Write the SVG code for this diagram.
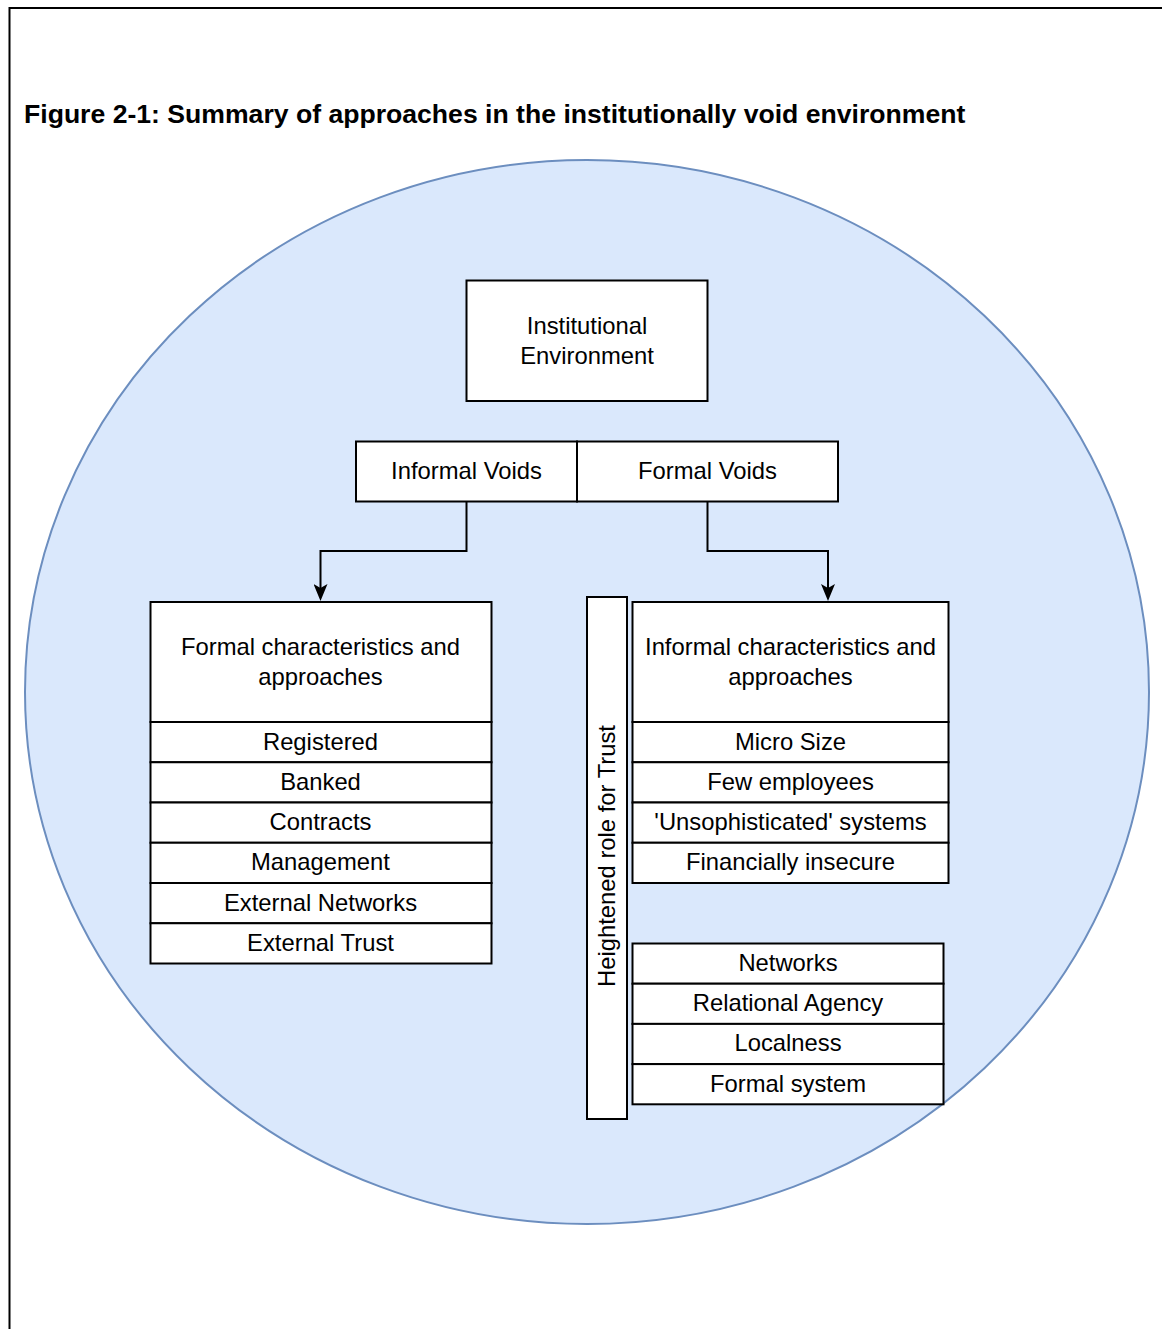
<svg xmlns="http://www.w3.org/2000/svg" width="1162" height="1329" viewBox="0 0 1162 1329">
  <style>
    .frame { fill: none; stroke: #000; stroke-width: 2; }
    .env { fill: #dae8fc; stroke: #6c8ebf; stroke-width: 2; }
    .box { fill: #fff; stroke: #000; stroke-width: 2; }
    .t { font-family: "Liberation Sans", Arial, sans-serif; font-size: 23.8px; fill: #000; text-anchor: middle; }
    .title { font-family: "Liberation Sans", Arial, sans-serif; font-size: 26.6px; font-weight: bold; fill: #000; }
    .edge { fill: none; stroke: #000; stroke-width: 2; }
  </style>
  <defs>
    <marker id="arrow" markerUnits="userSpaceOnUse" viewBox="0 0 17 14" refX="13" refY="7" markerWidth="17" markerHeight="14" orient="auto">
      <path d="M0,0 L17,7 L0,14 L4,7 Z" fill="#000"/>
    </marker>
  </defs>

  <rect width="1162" height="1329" fill="#fff"/>

  <!-- page frame (top and left rules) -->
  <path class="frame" d="M9.5,1329 V8 H1162"/>

  <text class="title" x="24" y="122.5">Figure 2-1: Summary of approaches in the institutionally void environment</text>

  <!-- surrounding environment -->
  <ellipse class="env" cx="587" cy="692" rx="562" ry="532"/>

  <!-- connectors -->
  <g id="connectors">
    <path class="edge" d="M466.5,501.5 V551 H320.5 V597" marker-end="url(#arrow)"/>
    <path class="edge" d="M707.5,501.5 V551 H828 V597" marker-end="url(#arrow)"/>
  </g>

  <g id="institutional-environment">
    <rect class="box" x="466.5" y="280.5" width="241" height="120.5"/>
    <text class="t" x="587" y="334">Institutional</text>
    <text class="t" x="587" y="364">Environment</text>
  </g>

  <g id="informal-voids">
    <rect class="box" x="356" y="441.5" width="221" height="60"/>
    <text class="t" x="466.5" y="478.5">Informal Voids</text>
  </g>

  <g id="formal-voids">
    <rect class="box" x="577" y="441.5" width="261" height="60"/>
    <text class="t" x="707.5" y="478.5">Formal Voids</text>
  </g>

  <g id="formal-characteristics">
    <rect class="box" x="150.5" y="602" width="341" height="120"/>
    <text class="t" x="320.5" y="655">Formal characteristics and</text>
    <text class="t" x="320.5" y="685">approaches</text>
    <rect class="box" x="150.5" y="722" width="341" height="40.25"/>
    <text class="t" x="320.5" y="749.5">Registered</text>
    <rect class="box" x="150.5" y="762.25" width="341" height="40.25"/>
    <text class="t" x="320.5" y="789.8">Banked</text>
    <rect class="box" x="150.5" y="802.5" width="341" height="40.25"/>
    <text class="t" x="320.5" y="830">Contracts</text>
    <rect class="box" x="150.5" y="842.75" width="341" height="40.25"/>
    <text class="t" x="320.5" y="870.3">Management</text>
    <rect class="box" x="150.5" y="883" width="341" height="40.25"/>
    <text class="t" x="320.5" y="910.5">External Networks</text>
    <rect class="box" x="150.5" y="923.25" width="341" height="40.25"/>
    <text class="t" x="320.5" y="950.8">External Trust</text>
  </g>

  <g id="heightened-trust">
    <rect class="box" x="587" y="597" width="40" height="522"/>
    <text class="t" transform="translate(615,856) rotate(-90)">Heightened role for Trust</text>
  </g>

  <g id="informal-characteristics">
    <rect class="box" x="632.5" y="602" width="316" height="120"/>
    <text class="t" x="790.5" y="655">Informal characteristics and</text>
    <text class="t" x="790.5" y="685">approaches</text>
    <rect class="box" x="632.5" y="722" width="316" height="40.25"/>
    <text class="t" x="790.5" y="749.5">Micro Size</text>
    <rect class="box" x="632.5" y="762.25" width="316" height="40.25"/>
    <text class="t" x="790.5" y="789.8">Few employees</text>
    <rect class="box" x="632.5" y="802.5" width="316" height="40.25"/>
    <text class="t" x="790.5" y="830">'Unsophisticated' systems</text>
    <rect class="box" x="632.5" y="842.75" width="316" height="40.25"/>
    <text class="t" x="790.5" y="870.3">Financially insecure</text>
  </g>

  <g id="trust-mechanisms">
    <rect class="box" x="632.5" y="943.5" width="311" height="40.2"/>
    <text class="t" x="788" y="971">Networks</text>
    <rect class="box" x="632.5" y="983.7" width="311" height="40.2"/>
    <text class="t" x="788" y="1011.2">Relational Agency</text>
    <rect class="box" x="632.5" y="1023.9" width="311" height="40.2"/>
    <text class="t" x="788" y="1051.4">Localness</text>
    <rect class="box" x="632.5" y="1064.1" width="311" height="40.2"/>
    <text class="t" x="788" y="1091.6">Formal system</text>
  </g>
</svg>
